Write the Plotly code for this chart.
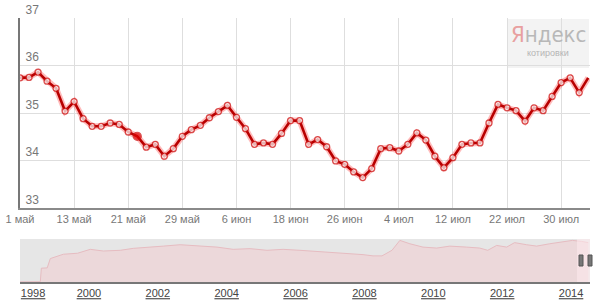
import plotly.graph_objects as go

# Main series: USD/RUB daily quotes, trading days from 1 May
rates = [35.74, 35.75, 35.86, 35.67, 35.52, 35.04, 35.24, 34.88, 34.72, 34.72,
         34.79, 34.76, 34.60, 34.51, 34.28, 34.34, 34.09, 34.25, 34.51, 34.65,
         34.74, 34.90, 35.03, 35.16, 34.91, 34.67, 34.34, 34.37, 34.34, 34.57,
         34.84, 34.84, 34.34, 34.44, 34.29, 33.99, 33.92, 33.76, 33.64, 33.83,
         34.25, 34.27, 34.20, 34.34, 34.58, 34.43, 34.09, 33.85, 34.06, 34.34,
         34.37, 34.37, 34.79, 35.18, 35.11, 35.05, 34.83, 35.11, 35.05, 35.35,
         35.64, 35.74, 35.43, 35.74]
highlight_index = 13

tick_labels = ["1 май", "13 май", "21 май", "29 май", "6 июн", "18 июн",
               "26 июн", "4 июл", "12 июл", "22 июл", "30 июл"]
tick_step = 6

y_ticks = [33, 34, 35, 36, 37]

# Navigator (long history)
nav_years = [1998.0, 1998.59, 1998.62, 1998.79, 1998.88, 1999.03, 1999.26, 1999.67,
             2000.04, 2000.42, 2000.91, 2001.29, 2001.78, 2002.16, 2002.65, 2002.94,
             2003.23, 2003.72, 2004.19, 2004.68, 2005.17, 2005.64, 2006.13, 2006.62,
             2007.09, 2007.58, 2007.96, 2008.25, 2008.51, 2008.80, 2009.03, 2009.32,
             2009.70, 2010.10, 2010.48, 2010.97, 2011.35, 2011.58, 2011.84, 2012.13,
             2012.36, 2012.71, 2013.00, 2013.38, 2013.75, 2014.04, 2014.30, 2014.50]
nav_values = [6.1, 6.2, 15.9, 16.1, 22.8, 23.9, 25.9, 26.6,
              29.4, 28.2, 28.7, 30.1, 30.8, 31.7, 32.7, 32.2,
              31.7, 31.0, 29.4, 29.9, 28.7, 29.4, 28.7, 28.0,
              27.1, 26.4, 25.6, 24.7, 24.7, 28.7, 35.8, 33.4,
              31.0, 30.3, 31.7, 31.0, 30.3, 28.7, 32.2, 31.0,
              34.2, 32.7, 31.7, 33.4, 34.6, 35.8, 35.1, 34.2]
nav_tick_years = [1998, 2000, 2002, 2004, 2006, 2008, 2010, 2012, 2014]

W, H = 600, 301
def py(px):
    return 1 - px / H

x_idx = list(range(len(rates)))
tickvals = [i * tick_step for i in range(len(tick_labels))]

fig = go.Figure()

# halo
fig.add_trace(go.Scatter(x=x_idx, y=rates, mode="lines",
                         line=dict(color="rgba(255,30,30,0.30)", width=6),
                         hoverinfo="skip", showlegend=False))
marker_fill = ["#e00000" if i == highlight_index else "white" for i in x_idx]
marker_size = [8 if i == highlight_index else 6 for i in x_idx]
marker_size[-1] = 0
fig.add_trace(go.Scatter(x=x_idx, y=rates, mode="lines+markers",
                         line=dict(color="#b80000", width=2.6),
                         marker=dict(color=marker_fill, size=marker_size,
                                     line=dict(color="#cc1010", width=1.3)),
                         showlegend=False))

fig.add_trace(go.Scatter(x=nav_years, y=nav_values, mode="lines",
                         xaxis="x2", yaxis="y2", fill="tozeroy",
                         fillcolor="#ecd8da", line=dict(color="#e6bcc1", width=1),
                         showlegend=False))

x0p, x1p = 20 / W, 590 / W
nav_range = [1998, 2014.55]
nav_tickvals = [y + (0.38 if y == nav_tick_years[0] else 0) for y in nav_tick_years]

fig.update_layout(
    width=W, height=H, margin=dict(l=0, r=0, t=0, b=0, autoexpand=False),
    paper_bgcolor="white", plot_bgcolor="white",
    font=dict(family="Liberation Sans, Arial, sans-serif", color="#666", size=11),
    xaxis=dict(domain=[x0p, x1p], range=[0, 63.2], tickvals=tickvals, ticktext=tick_labels,
               showgrid=True, gridcolor="#dedede", gridwidth=1, zeroline=False,
               showline=True, linecolor="#8a8a8a", linewidth=1.5, ticks="",
               ticklabeloverflow="allow",
               tickfont=dict(size=11, color="#777"), anchor="y", automargin=False),
    yaxis=dict(domain=[py(208), py(18)], range=[33, 37], tickvals=y_ticks,
               showgrid=True, gridcolor="#dedede", zeroline=False,
               showline=True, linecolor="#777", linewidth=2, ticks="",
               ticklabelposition="inside top", ticklabelstandoff=4,
               ticklabeloverflow="allow",
               tickfont=dict(size=12, color="#777"), anchor="x", automargin=False),
    xaxis2=dict(domain=[x0p, x1p], range=nav_range, tickvals=nav_tickvals,
                ticktext=["<u>%d</u>" % y for y in nav_tick_years],
                showgrid=False, zeroline=False, showline=True, linecolor="#777",
                linewidth=2, ticks="", anchor="y2", automargin=False,
                ticklabeloverflow="allow",
                tickfont=dict(size=11, color="#444")),
    yaxis2=dict(domain=[py(282), py(239)], range=[6, 36.8], showgrid=False,
                zeroline=False, showticklabels=False, anchor="x2", automargin=False),
)

# navigator background
fig.add_shape(type="rect", xref="paper", yref="paper", x0=x0p, x1=x1p,
              y0=py(282), y1=py(239), fillcolor="#e6e6e6", line=dict(width=0), layer="below")
# selected window in navigator
fig.add_shape(type="rect", xref="paper", yref="paper", x0=577 / W, x1=x1p,
              y0=py(282), y1=py(239), fillcolor="rgba(255,235,238,0.55)", line=dict(width=0))
for hx in (579, 588):
    fig.add_shape(type="rect", xref="paper", yref="paper", x0=hx / W, x1=(hx + 4) / W,
                  y0=py(266), y1=py(255), fillcolor="#777", line=dict(color="#555", width=1))

# watermark
fig.add_shape(type="rect", xref="paper", yref="paper", x0=508 / W, x1=589 / W,
              y0=py(68), y1=py(19), fillcolor="#f3f3f3", line=dict(width=0), layer="below")
fig.add_annotation(x=548 / W, y=py(35), xref="paper", yref="paper", showarrow=False,
                   xanchor="center", yanchor="middle",
                   text="<span style='color:#e8a0a0'>Я</span>ндекс",
                   font=dict(family="Liberation Sans Narrow, DejaVu Sans Condensed, sans-serif",
                             size=22, color="#b8b8b8"))
fig.add_annotation(x=548 / W, y=py(53), xref="paper", yref="paper", showarrow=False,
                   xanchor="center", yanchor="middle",
                   text="котировки",
                   font=dict(family="Liberation Sans, sans-serif", size=9, color="#b5b5b5"))

fig.write_html("out.html")
